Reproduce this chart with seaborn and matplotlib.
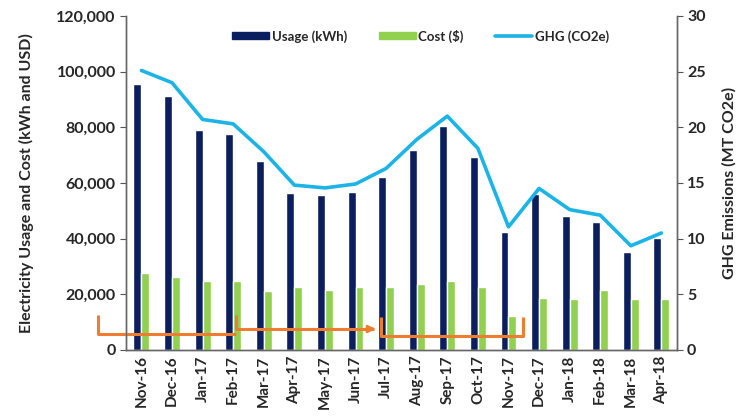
import pandas as pd
import numpy as np
import matplotlib
matplotlib.use('Agg')
import matplotlib.pyplot as plt
from matplotlib.patches import Patch
from matplotlib.lines import Line2D
from matplotlib.ticker import FuncFormatter, MultipleLocator, FixedLocator
import seaborn as sns

# data
months = ['Nov-16', 'Dec-16', 'Jan-17', 'Feb-17', 'Mar-17', 'Apr-17', 'May-17', 'Jun-17', 'Jul-17',
          'Aug-17', 'Sep-17', 'Oct-17', 'Nov-17', 'Dec-17', 'Jan-18', 'Feb-18', 'Mar-18', 'Apr-18']
usage = [95600, 91300, 79000, 77600, 67900, 56400, 55700, 56800, 62200,
         71900, 80500, 69300, 42400, 56000, 48100, 46000, 35200, 40200]
cost = [27700, 26200, 24800, 24800, 21200, 22600, 21600, 22600, 22600,
        23700, 24800, 22600, 12200, 18700, 18300, 21600, 18300, 18300]
ghg = [25.1, 24.0, 20.7, 20.3, 17.8, 14.8, 14.55, 14.9, 16.3,
       18.9, 21.0, 18.1, 11.05, 14.5, 12.6, 12.1, 9.35, 10.5]
series_names = ['Usage (kWh)', 'Cost ($)', 'GHG (CO2e)']

navy = '#0B1F5E'
green = '#92D050'
cyan = '#1CB3E6'
orange = '#ED7D31'

df = pd.DataFrame({
    'Month': months * 2,
    'Value': usage + cost,
    'Series': [series_names[0]] * len(months) + [series_names[1]] * len(months),
})

sns.set_style('white')
plt.rcParams['font.family'] = ['Lato', 'DejaVu Sans']
plt.rcParams['font.weight'] = 'bold'

fig, ax = plt.subplots(figsize=(7.42, 4.19), dpi=100)
fig.subplots_adjust(left=0.170, right=0.912, top=0.962, bottom=0.165)

sns.barplot(data=df, x='Month', y='Value', hue='Series', palette=[navy, green],
            width=0.52, ax=ax, legend=False, saturation=1)

ax2 = ax.twinx()
sns.lineplot(x=np.arange(len(months)), y=ghg, ax=ax2, color=cyan, lw=2.6)

ax.set_xlim(-0.5, len(months) - 0.5)
ax.set_ylim(0, 120000)
ax2.set_ylim(0, 30)

ax.yaxis.set_major_locator(MultipleLocator(20000))
ax.yaxis.set_major_formatter(FuncFormatter(lambda v, p: f'{int(v):,}'))
ax2.yaxis.set_major_locator(MultipleLocator(5))

ax.set_xlabel('')
ax.set_ylabel('Electricity Usage and Cost (kWh and USD)', fontsize=11.5, fontweight='bold', labelpad=16)
ax2.set_ylabel('GHG Emissions (MT CO2e)', fontsize=11.5, fontweight='bold', labelpad=12)

ax.set_xticks(range(len(months)))
ax.set_xticklabels(months, rotation=90, fontsize=11, fontweight='bold')
ax.xaxis.set_minor_locator(FixedLocator(np.arange(-0.5, len(months), 1)))
ax.tick_params(axis='x', which='major', length=0, pad=4)
ax.tick_params(axis='x', which='minor', length=5, color='#555555', direction='out')
ax.tick_params(axis='y', length=4, direction='out', color='#555555', labelsize=11.5)
ax2.tick_params(axis='y', length=4, direction='out', color='#555555', labelsize=11.5)
for lab in ax.get_yticklabels() + ax2.get_yticklabels():
    lab.set_fontweight('bold')
ax.tick_params(axis='y', left=True)
ax2.tick_params(axis='y', right=True)

for a in (ax, ax2):
    a.spines['top'].set_visible(False)
    for s in ('left', 'right', 'bottom'):
        a.spines[s].set_color('#666666')
        a.spines[s].set_linewidth(1.0)

# orange brackets
kw = dict(color=orange, lw=2.2, clip_on=False, solid_capstyle='butt', zorder=5)
ax.plot([-1.42, -1.42, 3.09], [12600, 5750, 5750], **kw)
ax.plot([3.09, 3.09, 7.6], [12600, 7500, 7500], **kw)
ax.annotate('', xy=(7.75, 7500), xytext=(7.4, 7500),
            arrowprops=dict(arrowstyle='-|>', color=orange, lw=2.0, mutation_scale=10),
            annotation_clip=False)
ax.plot([7.83, 7.83, 12.47, 12.47], [11900, 5000, 5000, 11900], **kw)

handles = [Patch(color=navy), Patch(color=green), Line2D([], [], color=cyan, lw=2.6)]
leg = ax.legend(handles, series_names, loc='center', bbox_to_anchor=(0.535, 0.94), ncol=3,
                frameon=False, fontsize=9.5, handlelength=2.8, handleheight=0.45,
                columnspacing=2.4, handletextpad=0.2)
for t in leg.get_texts():
    t.set_fontweight('bold')

fig.savefig('out.png', dpi=100)
